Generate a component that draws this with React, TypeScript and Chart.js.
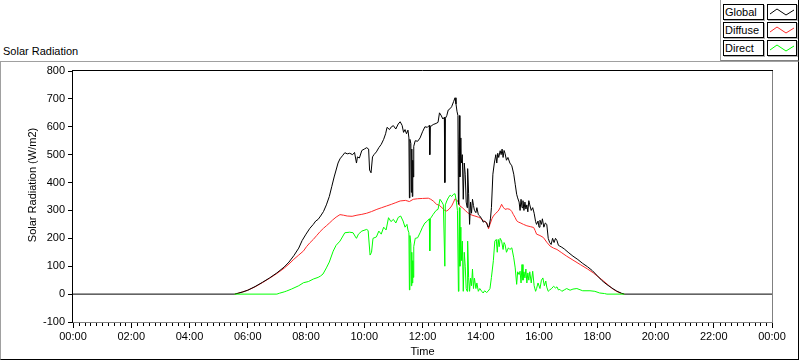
import React, { useEffect, useRef } from 'react';
import { Chart, registerables } from 'chart.js';

Chart.register(...registerables);

const FONT_FAMILY = '"Liberation Sans", Arial, sans-serif';

const X_TICK_HOURS = [0, 2, 4, 6, 8, 10, 12, 14, 16, 18, 20, 22, 24];
const X_TICK_LABELS = ['00:00', '02:00', '04:00', '06:00', '08:00', '10:00', '12:00', '14:00', '16:00', '18:00', '20:00', '22:00', '00:00'];
const Y_TICKS = [-100, 0, 100, 200, 300, 400, 500, 600, 700, 800];
const Y_TITLE = 'Solar Radiation (W/m2)';

const SERIES_NAMES = ['Global', 'Diffuse', 'Direct'];
const SERIES_COLORS = ['#000000', '#ff2a2a', '#00ff00'];

const GLOBAL: [string, number][] = [
  ['00:00', 0], ['05:33', 0], ['05:40', 3], ['05:50', 8], ['06:00', 14], ['06:15', 27], ['06:30', 42], ['06:45', 58],
  ['07:00', 76], ['07:15', 97], ['07:25', 115], ['07:35', 138], ['07:45', 165], ['07:52', 192], ['08:00', 215],
  ['08:08', 236], ['08:15', 250], ['08:20', 262], ['08:25', 268], ['08:30', 280], ['08:36', 296], ['08:42', 320],
  ['08:48', 350], ['08:53', 385], ['08:58', 420], ['09:02', 445], ['09:06', 470], ['09:10', 485], ['09:15', 496],
  ['09:20', 507], ['09:25', 503], ['09:30', 505], ['09:36', 500], ['09:40', 508], ['09:44', 470], ['09:46', 492],
  ['09:50', 488], ['09:55', 515], ['10:00', 520], ['10:05', 525], ['10:09', 520], ['10:11', 445], ['10:14', 435],
  ['10:17', 492], ['10:20', 500], ['10:25', 510], ['10:30', 525], ['10:35', 537], ['10:40', 555], ['10:44', 575],
  ['10:47', 598], ['10:52', 590], ['10:56', 600], ['11:00', 604], ['11:05', 592], ['11:10', 610], ['11:14', 618],
  ['11:18', 605], ['11:21', 580], ['11:24', 590], ['11:27', 575], ['11:30', 588], ['11:32', 560], ['11:33', 345],
  ['11:34', 555], ['11:36', 540], ['11:37', 365], ['11:38', 520], ['11:39', 350], ['11:40', 480], ['11:41', 420],
  ['11:42', 530], ['11:45', 550], ['11:50', 548], ['11:55', 560], ['12:00', 582], ['12:05', 600], ['12:10', 598],
  ['12:14', 605], ['12:15', 500], ['12:16', 600], ['12:22', 608], ['12:28', 612], ['12:32', 616], ['12:35', 650],
  ['12:38', 642], ['12:42', 628], ['12:45', 634], ['12:46', 400], ['12:47', 630], ['12:50', 640], ['12:53', 660],
  ['12:57', 665], ['13:00', 672], ['13:04', 690], ['13:07', 704], ['13:09', 682], ['13:11', 656], ['13:13', 640],
  ['13:14', 322], ['13:15', 500], ['13:16', 640], ['13:17', 420], ['13:19', 560], ['13:20', 470], ['13:22', 500],
  ['13:24', 340], ['13:26', 470], ['13:28', 430], ['13:30', 330], ['13:32', 310], ['13:33', 450], ['13:35', 360],
  ['13:37', 250], ['13:39', 330], ['13:41', 290], ['13:43', 340], ['13:45', 318], ['13:47', 300], ['13:50', 292],
  ['13:52', 310], ['13:55', 285], ['13:58', 280], ['14:02', 270], ['14:05', 258], ['14:08', 262], ['14:12', 255],
  ['14:15', 240], ['14:17', 242], ['14:20', 270], ['14:22', 310], ['14:25', 430], ['14:28', 470], ['14:31', 500],
  ['14:33', 470], ['14:35', 505], ['14:37', 490], ['14:40', 514], ['14:42', 500], ['14:44', 520], ['14:46', 490],
  ['14:48', 515], ['14:50', 505], ['14:53', 480], ['14:56', 490], ['15:00', 470], ['15:04', 460], ['15:08', 430],
  ['15:11', 394], ['15:14', 358], ['15:16', 345], ['15:19', 330], ['15:21', 300], ['15:23', 340], ['15:25', 310],
  ['15:27', 335], ['15:29', 300], ['15:31', 330], ['15:33', 305], ['15:35', 320], ['15:37', 295], ['15:39', 335],
  ['15:41', 320], ['15:44', 300], ['15:47', 310], ['15:50', 290], ['15:53', 260], ['15:55', 250], ['15:58', 262],
  ['16:00', 240], ['16:02', 265], ['16:05', 250], ['16:07', 270], ['16:10', 240], ['16:13', 255], ['16:16', 250],
  ['16:19', 200], ['16:22', 185], ['16:25', 178], ['16:28', 200], ['16:31', 185], ['16:34', 200], ['16:37', 192],
  ['16:40', 175], ['16:43', 172], ['16:47', 168], ['16:52', 162], ['17:00', 150], ['17:10', 136], ['17:20', 124],
  ['17:30', 110], ['17:40', 98], ['17:50', 84], ['18:00', 66], ['18:10', 48], ['18:20', 34], ['18:30', 22],
  ['18:40', 11], ['18:50', 3], ['18:56', 0], ['24:00', 0],
];

const DIFFUSE: [string, number][] = [
  ['05:33', 0], ['05:40', 3], ['05:50', 8], ['06:00', 14], ['06:15', 26], ['06:30', 41], ['06:45', 57], ['07:00', 74],
  ['07:15', 93], ['07:25', 108], ['07:35', 125], ['07:45', 140], ['07:55', 155], ['08:01', 170], ['08:08', 184],
  ['08:15', 196], ['08:22', 210], ['08:29', 224], ['08:36', 236], ['08:42', 245], ['08:49', 256], ['08:55', 266],
  ['09:02', 276], ['09:10', 285], ['09:17', 283], ['09:25', 280], ['09:35', 279], ['09:45', 283], ['09:55', 286],
  ['10:05', 290], ['10:15', 296], ['10:26', 304], ['10:36', 310], ['10:46', 316], ['10:56', 322], ['11:05', 328],
  ['11:14', 334], ['11:25', 336], ['11:33', 332], ['11:41', 340], ['11:50', 342], ['12:00', 343], ['12:12', 344],
  ['12:17', 340], ['12:22', 334], ['12:29', 322], ['12:35', 318], ['12:40', 310], ['12:46', 300], ['12:50', 298],
  ['12:55', 305], ['13:00', 316], ['13:04', 330], ['13:07', 342], ['13:10', 338], ['13:14', 330], ['13:17', 316],
  ['13:22', 310], ['13:28', 300], ['13:33', 292], ['13:38', 286], ['13:44', 282], ['13:48', 280], ['13:55', 276],
  ['14:00', 272], ['14:05', 263], ['14:10', 258], ['14:13', 254], ['14:16', 234], ['14:19', 250], ['14:23', 270],
  ['14:26', 280], ['14:31', 290], ['14:36', 298], ['14:40', 310], ['14:43', 322], ['14:46', 312], ['14:50', 304],
  ['14:55', 306], ['15:00', 304], ['15:04', 296], ['15:07', 286], ['15:11', 274], ['15:14', 263], ['15:18', 258],
  ['15:21', 256], ['15:28', 250], ['15:35', 245], ['15:42', 242], ['15:49', 239], ['15:52', 228], ['15:55', 215],
  ['16:02', 210], ['16:09', 203], ['16:16', 186], ['16:23', 172], ['16:30', 165], ['16:37', 160], ['16:47', 148],
  ['16:57', 136], ['17:10', 122], ['17:25', 106], ['17:40', 90], ['17:52', 76], ['18:02', 62], ['18:13', 47],
  ['18:23', 32], ['18:33', 17], ['18:42', 8], ['18:50', 2], ['18:56', 0],
];

const DIRECT: [string, number][] = [
  ['05:33', 0], ['07:00', 0], ['07:05', 3], ['07:15', 8], ['07:20', 11], ['07:30', 18], ['07:45', 30], ['07:55', 41],
  ['08:05', 45], ['08:15', 54], ['08:25', 60], ['08:30', 65], ['08:35', 72], ['08:42', 94], ['08:48', 115],
  ['08:56', 154], ['09:02', 175], ['09:10', 190], ['09:20', 220], ['09:30', 222], ['09:37', 220], ['09:42', 205],
  ['09:44', 200], ['09:48', 215], ['09:55', 226], ['10:05', 232], ['10:08', 228], ['10:12', 140], ['10:15', 150],
  ['10:18', 200], ['10:25', 205], ['10:30', 226], ['10:35', 215], ['10:40', 240], ['10:45', 230], ['10:50', 274],
  ['10:55', 260], ['11:00', 268], ['11:05', 255], ['11:10', 275], ['11:15', 280], ['11:20', 262], ['11:24', 240],
  ['11:28', 250], ['11:30', 230], ['11:32', 220], ['11:33', 15], ['11:34', 210], ['11:36', 180], ['11:37', 30],
  ['11:38', 150], ['11:39', 40], ['11:40', 120], ['11:41', 60], ['11:42', 170], ['11:45', 200], ['11:50', 202],
  ['11:55', 220], ['12:00', 240], ['12:05', 255], ['12:10', 262], ['12:14', 270], ['12:15', 155], ['12:16', 270],
  ['12:22', 286], ['12:28', 300], ['12:32', 304], ['12:36', 340], ['12:40', 330], ['12:43', 320], ['12:46', 100],
  ['12:47', 320], ['12:50', 334], ['12:53', 345], ['12:57', 355], ['13:00', 350], ['13:04', 358], ['13:07', 360],
  ['13:10', 330], ['13:12', 300], ['13:14', 10], ['13:15', 180], ['13:16', 310], ['13:17', 100], ['13:19', 240],
  ['13:20', 120], ['13:22', 190], ['13:24', 10], ['13:26', 150], ['13:28', 100], ['13:30', 20], ['13:32', 10],
  ['13:33', 190], ['13:35', 60], ['13:37', 10], ['13:39', 57], ['13:41', 30], ['13:43', 90], ['13:45', 20],
  ['13:47', 57], ['13:50', 20], ['13:52', 40], ['13:55', 10], ['13:58', 20], ['14:02', 10], ['14:05', 4],
  ['14:08', 12], ['14:12', 6], ['14:15', 10], ['14:19', 20], ['14:22', 60], ['14:26', 120], ['14:29', 190],
  ['14:32', 196], ['14:34', 150], ['14:36', 196], ['14:38', 170], ['14:40', 200], ['14:43', 190], ['14:46', 160],
  ['14:48', 185], ['14:50', 178], ['14:53', 150], ['14:57', 166], ['15:00', 160], ['15:04', 166], ['15:08', 130],
  ['15:11', 94], ['15:14', 35], ['15:16', 80], ['15:19', 70], ['15:21', 82], ['15:23', 40], ['15:25', 106],
  ['15:27', 50], ['15:29', 80], ['15:31', 58], ['15:33', 90], ['15:35', 40], ['15:37', 76], ['15:39', 50],
  ['15:41', 80], ['15:44', 40], ['15:47', 82], ['15:50', 30], ['15:53', 10], ['15:55', 20], ['15:58', 40],
  ['16:02', 20], ['16:05', 50], ['16:08', 58], ['16:11', 30], ['16:14', 47], ['16:16', 25], ['16:19', 10],
  ['16:22', 15], ['16:26', 20], ['16:30', 28], ['16:34', 22], ['16:37', 26], ['16:40', 15], ['16:43', 17],
  ['16:47', 10], ['16:52', 15], ['16:57', 20], ['17:04', 14], ['17:10', 18], ['17:18', 20], ['17:30', 12],
  ['17:45', 12], ['17:55', 10], ['18:05', 4], ['18:15', 2], ['18:20', 0], ['18:56', 0],
];

function toHours(t: string): number {
  const [h, m] = t.split(':').map(Number);
  return h + m / 60;
}

function toPoints(series: [string, number][]) {
  return series.map(([t, v]) => ({ x: toHours(t), y: v }));
}

const framePlugin = {
  id: 'lvFrame',
  afterDraw(chart: any) {
    const { ctx, chartArea } = chart;
    const { left, top, right, bottom } = chartArea;
    const xs = chart.scales.x;
    ctx.save();
    ctx.lineWidth = 1;
    ctx.strokeStyle = '#808080';
    ctx.beginPath();
    ctx.moveTo(right + 0.5, top - 1);
    ctx.lineTo(right + 0.5, bottom + 1);
    ctx.moveTo(left - 1, bottom + 0.5);
    ctx.lineTo(right + 1, bottom + 0.5);
    ctx.stroke();
    ctx.strokeStyle = '#000000';
    ctx.beginPath();
    ctx.moveTo(left - 0.5, top - 1);
    ctx.lineTo(left - 0.5, bottom + 1);
    ctx.moveTo(left - 1, top - 0.5);
    ctx.lineTo(right + 1, top - 0.5);
    ctx.stroke();
    ctx.beginPath();
    for (let i = 0; i <= 120; i++) {
      if (i % 10 === 0) continue;
      const px = Math.round(xs.getPixelForValue(i / 5)) + 0.5;
      ctx.moveTo(px, bottom + 1);
      ctx.lineTo(px, bottom + 4);
    }
    ctx.stroke();
    // y-axis title (rotated), placed like the reference
    ctx.fillStyle = '#000000';
    ctx.font = `11px ${FONT_FAMILY}`;
    ctx.textAlign = 'center';
    ctx.textBaseline = 'middle';
    ctx.translate(33, 185);
    ctx.rotate(-Math.PI / 2);
    ctx.fillText(Y_TITLE, 0, 0);
    ctx.restore();
  },
};

function LegendRow({ name, color, top }: { name: string; color: string; top: number }) {
  const box: React.CSSProperties = {
    position: 'absolute',
    top,
    height: 14,
    border: '1px solid #000',
    boxShadow: '1px 1px 0 #b0b0b0',
    background: '#fff',
    boxSizing: 'content-box',
  };
  return (
    <>
      <div style={{ ...box, left: 723, width: 38, fontSize: 11, lineHeight: '14px', paddingLeft: 1, color: '#000' }}>{name}</div>
      <div style={{ ...box, left: 767, width: 28 }}>
        <svg width={28} height={14} style={{ display: 'block' }}>
          <polyline points="2,9 9,4 18,10 26,5" fill="none" stroke={color} strokeWidth={1} />
        </svg>
      </div>
    </>
  );
}

export default function App() {
  const canvasRef = useRef<HTMLCanvasElement>(null);

  useEffect(() => {
    if (!canvasRef.current) return;
    const tickFont = { family: FONT_FAMILY, size: 11 };
    const chart = new Chart(canvasRef.current, {
      type: 'line',
      data: {
        datasets: [
          {
            label: SERIES_NAMES[2],
            data: toPoints(DIRECT),
            borderColor: SERIES_COLORS[2],
            borderWidth: 1,
            pointRadius: 0,
            tension: 0,
            fill: false,
            order: 0,
          },
          {
            label: SERIES_NAMES[0],
            data: toPoints(GLOBAL),
            borderColor: SERIES_COLORS[0],
            borderWidth: 1,
            pointRadius: 0,
            tension: 0,
            fill: false,
            order: 1,
          },
          {
            label: SERIES_NAMES[1],
            data: toPoints(DIFFUSE),
            borderColor: SERIES_COLORS[1],
            borderWidth: 1,
            pointRadius: 0,
            tension: 0,
            fill: false,
            order: 2,
          },
        ],
      },
      options: {
        responsive: false,
        animation: false,
        devicePixelRatio: 1,
        parsing: false,
        normalized: true,
        layout: { padding: { left: 0, top: 71, right: 28, bottom: 0 } },
        plugins: {
          legend: { display: false },
          tooltip: { enabled: false },
          title: { display: false },
        },
        events: [],
        scales: {
          x: {
            type: 'linear',
            position: 'bottom',
            min: 0,
            max: 24,
            afterFit: (s: any) => { s.height = 39; },
            afterBuildTicks: (s: any) => { s.ticks = X_TICK_HOURS.map((v) => ({ value: v })); },
            border: { display: false },
            grid: { display: true, drawOnChartArea: false, drawTicks: true, tickLength: 6, color: '#000000', lineWidth: 1 },
            ticks: {
              autoSkip: false,
              maxRotation: 0,
              padding: 2,
              color: '#000000',
              font: tickFont,
              callback: (_v: any, i: number) => X_TICK_LABELS[i],
            },
            title: { display: true, text: 'Time', color: '#000000', font: tickFont, padding: { top: 0, bottom: 2 } },
          },
          y: {
            type: 'linear',
            position: 'left',
            min: -100,
            max: 800,
            afterFit: (s: any) => { s.width = 73; },
            afterBuildTicks: (s: any) => { s.ticks = Y_TICKS.map((v) => ({ value: v })); },
            border: { display: false },
            grid: { display: true, drawOnChartArea: false, drawTicks: true, tickLength: 5, color: '#000000', lineWidth: 1 },
            ticks: { padding: 3, color: '#000000', font: tickFont },
            title: { display: false, text: Y_TITLE },
          },
        },
      },
      plugins: [framePlugin],
    } as any);
    return () => chart.destroy();
  }, []);

  return (
    <div style={{ position: 'fixed', left: 0, top: 0, width: 800, height: 361, background: '#fff', fontFamily: FONT_FAMILY, overflow: 'hidden' }}>
      <div style={{ position: 'absolute', left: 0, top: 61, width: 797, height: 297, borderLeft: '1px solid #a0a0a0', borderTop: '1px solid #a0a0a0', borderRight: '1px solid #000', borderBottom: '1px solid #000' }} />
      <div style={{ position: 'absolute', left: 3, top: 45, fontSize: 11, lineHeight: '13px', color: '#000', whiteSpace: 'nowrap' }}>Solar Radiation</div>
      <canvas ref={canvasRef} width={800} height={361} style={{ position: 'absolute', left: 0, top: 0, width: 800, height: 361, display: 'block' }} />
      <div style={{ position: 'absolute', left: 720, top: 0, width: 77, height: 60, borderLeft: '1px solid #a0a0a0', borderRight: '1px solid #000', borderBottom: '1px solid #808080', background: '#fff' }} />
      <LegendRow name={SERIES_NAMES[0]} color={SERIES_COLORS[0]} top={4} />
      <LegendRow name={SERIES_NAMES[1]} color={SERIES_COLORS[1]} top={22} />
      <LegendRow name={SERIES_NAMES[2]} color={SERIES_COLORS[2]} top={40} />
    </div>
  );
}
